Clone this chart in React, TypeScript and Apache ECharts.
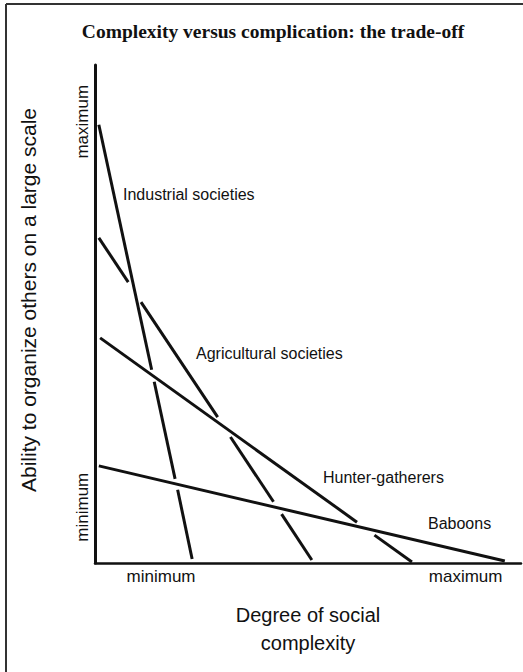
import React, { useEffect, useRef } from "react";
import * as echarts from "echarts";

const TITLE = "Complexity versus complication: the trade-off";
const X_NAME = "Degree of social\ncomplexity";
const Y_NAME = "Ability to organize others on a large scale";
const X_TICK_LABELS = ["minimum", "maximum"];
const X_TICK_VALUES = [15.5, 87];
const Y_TICK_LABELS = ["minimum", "maximum"];
const Y_TICK_VALUES = [11.2, 88.6];

const SOCIETIES = ["Industrial societies", "Agricultural societies", "Hunter-gatherers", "Baboons"];
// Consecutive pairs of points form the drawn segments (gaps where one line passes over another)
const industrial = [[0.9, 88.0], [13.3, 38.8], [13.9, 36.4], [18.8, 16.9], [19.4, 14.7], [22.8, 0.8]];
const agricultural = [[0.9, 65.3], [7.8, 56.4], [10.8, 52.4], [28.8, 29.3], [31.8, 25.3], [41.9, 12.3], [43.8, 9.8], [50.9, 0.6]];
const hunterGatherers = [[1.2, 45.2], [61.5, 8.2], [65.6, 5.6], [74.4, 0.2]];
const baboons = [[0.9, 19.5], [96.2, 0.4]];
const SERIES_POINTS = [industrial, agricultural, hunterGatherers, baboons];

const FONT = "'Liberation Sans', Arial, sans-serif";
const INK = "#111";

export default function App() {
  const ref = useRef<HTMLDivElement>(null);
  useEffect(() => {
    if (!ref.current) return;
    const chart = echarts.init(ref.current, undefined, { renderer: "svg" });
    const series: any[] = [];
    SERIES_POINTS.forEach((pts, si) => {
      for (let i = 0; i + 1 < pts.length; i += 2) {
        series.push({
          type: "line",
          name: SOCIETIES[si],
          data: [pts[i], pts[i + 1]],
          symbol: "none",
          silent: true,
          lineStyle: { color: INK, width: 3, cap: "butt" },
        });
      }
    });
    const pick = (vals: number[], labels: string[]) => (v: number) => {
      const k = vals.findIndex((t) => Math.abs(t - v) < 1e-6);
      return k >= 0 ? labels[k] : "";
    };
    const txt = (text: string, x: number, y: number, extra: any = {}, rotation = 0) => ({
      type: "text",
      x,
      y,
      rotation,
      silent: true,
      style: {
        text,
        fill: INK,
        fontFamily: FONT,
        fontSize: 16,
        textAlign: "left",
        align: "left",
        textVerticalAlign: "middle",
        verticalAlign: "middle",
        ...extra,
      },
    });
    chart.setOption({
      animation: false,
      backgroundColor: "#fff",
      grid: { left: 95, right: 2, top: 65, bottom: 109 },
      xAxis: {
        type: "value",
        min: 0,
        max: 100,
        splitLine: { show: false },
        axisTick: { show: false },
        axisLine: { show: true, lineStyle: { color: INK, width: 2.5 } },
        axisLabel: {
          customValues: X_TICK_VALUES,
          formatter: pick(X_TICK_VALUES, X_TICK_LABELS),
          color: INK,
          fontFamily: FONT,
          fontSize: 17,
          margin: 5,
        },
        name: X_NAME,
        nameLocation: "middle",
        nameGap: 38,
        nameTextStyle: { color: INK, fontFamily: FONT, fontSize: 20, lineHeight: 28 },
      },
      yAxis: {
        type: "value",
        min: 0,
        max: 100,
        splitLine: { show: false },
        axisTick: { show: false },
        axisLine: { show: true, lineStyle: { color: INK, width: 3 } },
        axisLabel: {
          customValues: Y_TICK_VALUES,
          formatter: pick(Y_TICK_VALUES, Y_TICK_LABELS),
          color: INK,
          fontFamily: FONT,
          fontSize: 17,
          rotate: 90,
          margin: 4,
        },
      },
      series,
      graphic: [
        { type: "line", silent: true, shape: { x1: 6, y1: 4, x2: 6, y2: 672 }, style: { stroke: "#333", lineWidth: 2 } },
        { type: "line", silent: true, shape: { x1: 6, y1: 4, x2: 523, y2: 4 }, style: { stroke: "#333", lineWidth: 2 } },
        txt(TITLE, 273, 31, {
          fontFamily: "'Liberation Serif', 'Times New Roman', serif",
          fontWeight: "bold",
          fontSize: 19.5,
          textAlign: "center",
          align: "center",
        }),
        txt(Y_NAME, 28, 300, { fontSize: 21, textAlign: "center", align: "center" }, Math.PI / 2),
        txt(SOCIETIES[0], 123, 194),
        txt(SOCIETIES[1], 196, 353),
        txt(SOCIETIES[2], 323, 477),
        txt(SOCIETIES[3], 428, 523),
      ],
    });
    return () => chart.dispose();
  }, []);
  return (
    <div
      ref={ref}
      style={{ position: "fixed", left: 0, top: 0, width: 523, height: 672, background: "#fff" }}
    />
  );
}
